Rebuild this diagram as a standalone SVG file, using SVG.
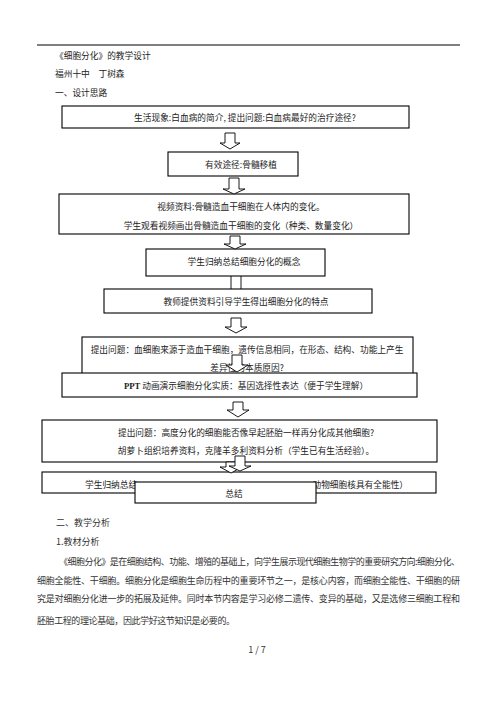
<svg xmlns="http://www.w3.org/2000/svg" width="496" height="702" viewBox="0 0 496 702">
<style>
text{font-family:"Noto Sans CJK SC","Noto Sans CJK JP",sans-serif;font-size:8.7px;fill:#222}
.c{text-anchor:middle}
.e{text-anchor:end}
.b{font-size:9px;fill:#333}
.box{fill:#fff;stroke:#000;stroke-width:1.1}
.arr{fill:#fff;stroke:#000;stroke-width:0.9}
.ppt{font-family:"Liberation Serif","DejaVu Serif",serif;font-weight:bold}
</style>
<rect width="496" height="702" fill="#fff"/>
<line x1="37" y1="45" x2="460" y2="45" stroke="#000" stroke-width="1.2"/>
<text x="55" y="59">《细胞分化》的教学设计</text>
<text x="55" y="77">福州十中　丁树森</text>
<text x="55" y="96">一、设计思路</text>

<g id="n1"><rect class="box" x="62" y="106" width="347" height="22"/>
<text class="c" x="245" y="121">生活现象:白血病的简介, 提出问题:白血病最好的治疗途径?</text></g>
<g id="n2"><rect class="box" x="168" y="152" width="130" height="24"/>
<text class="c" x="241" y="168">有效途径:骨髓移植</text></g>
<g id="n3"><rect class="box" x="59" y="194" width="350" height="40"/>
<text class="c" x="241" y="210">视频资料:骨髓造血干细胞在人体内的变化。</text>
<text class="c" x="241" y="229">学生观看视频画出骨髓造血干细胞的变化（种类、数量变化）</text></g>
<g id="n4"><rect class="box" x="146" y="249" width="179" height="27"/>
<text class="c" x="244" y="265">学生归纳总结细胞分化的概念</text></g>
<g id="n5"><rect class="box" x="104" y="289" width="268" height="24"/>
<text class="c" x="246" y="305">教师提供资料引导学生得出细胞分化的特点</text></g>
<g id="n6"><rect class="box" x="82" y="337" width="331" height="44"/>
<text class="c" x="247" y="353">提出问题：血细胞来源于造血干细胞，遗传信息相同，在形态、结构、功能上产生</text>
<text class="c" x="247" y="371">差异性的本质原因?</text></g>
<g id="n7"><rect class="box" x="62" y="373" width="355" height="24"/>
<text class="c" x="246" y="389"><tspan class="ppt">PPT</tspan> 动画演示细胞分化实质：基因选择性表达（便于学生理解）</text></g>
<g id="n8"><rect class="box" x="42" y="420" width="395" height="42"/>
<text class="c" x="246" y="436">提出问题：高度分化的细胞能否像早起胚胎一样再分化成其他细胞?</text>
<text class="c" x="246" y="454">胡萝卜组织培养资料，克隆羊多利资料分析（学生已有生活经验）。</text></g>
<g id="n9"><rect class="box" x="42" y="472" width="394" height="21"/>
<text x="85" y="488">学生归纳总结</text>
<text class="e" x="408" y="488">动物细胞核具有全能性）</text></g>
<g id="n10"><rect class="box" x="135" y="482" width="181" height="21"/>
<text class="c" x="234" y="497">总结</text></g>

<g id="connectors">
<path class="arr" d="M225,133 H235 V143 H240 L230,149 L220,143 H225 Z"/>
<path class="arr" d="M229,178 H239 V189 H245 L234,194 L223,189 H229 Z"/>
<path class="arr" d="M230,236 H240 V244 H246 L235,249 L224,244 H230 Z"/>
<path class="arr" d="M231,276 V289 M241,276 V289"/>
<path class="arr" d="M231,318 H241 V327 H247 L236,333 L225,327 H231 Z"/>
<path class="arr" d="M232,355 H242 V365 H248 L237,372 L226,365 H232 Z"/>
<path class="arr" d="M233,402 H243 V410 H249 L238,417 L227,410 H233 Z"/>
<path class="arr" d="M226,462 H236 V467 H242 L231,473 L220,467 H226 Z"/>
<path class="arr" d="M235,456 H245 V466 H251 L240,471 L229,466 H235 Z"/>
</g>

<text class="b" x="56" y="526">二、教学分析</text>
<text class="b" x="56" y="545">1.教材分析</text>
<text class="b" x="59" y="565" textLength="401" lengthAdjust="spacing">《细胞分化》是在细胞结构、功能、增殖的基础上，向学生展示现代细胞生物学的重要研究方向:细胞分化、</text>
<text class="b" x="37" y="584" textLength="423" lengthAdjust="spacing">细胞全能性、干细胞。细胞分化是细胞生命历程中的重要环节之一，是核心内容，而细胞全能性、干细胞的研</text>
<text class="b" x="37" y="602" textLength="423" lengthAdjust="spacing">究是对细胞分化进一步的拓展及延伸。同时本节内容是学习必修二遗传、变异的基础，又是选修三细胞工程和</text>
<text class="b" x="37" y="624" textLength="198" lengthAdjust="spacing">胚胎工程的理论基础，因此学好这节知识是必要的。</text>
<text class="b c" x="257" y="653">1 / 7</text>
</svg>
